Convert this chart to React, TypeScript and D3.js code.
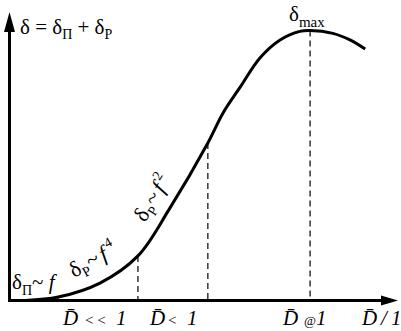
import React from "react";
import * as d3 from "d3";

// curve samples (arbitrary units, 0..10)
const curveX = [0.41, 1.28, 2.38, 3.38, 4.22, 5.22, 5.62, 6.07, 6.59, 7.12, 7.64, 7.91, 8.51, 8.96, 9.36];
const curveY = [0, 0.12, 0.61, 1.56, 3.23, 5.51, 6.56, 7.46, 8.48, 9.11, 9.41, 9.44, 9.34, 9.11, 8.79];

// dashed drop lines: x position and height where they meet the curve
const markX = [1.28, 3.38, 5.22, 7.91];
const markY = [0.12, 1.56, 5.51, 9.44];

const W = 401;
const H = 331;
const FONT = "'Liberation Serif', 'Times New Roman', serif";

const App = () => {
  const x = d3.scaleLinear().domain([0, 10]).range([9.5, 389.5]);
  const y = d3.scaleLinear().domain([0, 10]).range([300.5, 14.5]);

  const pts: [number, number][] = curveX.map((v, i) => [v, curveY[i]]);
  const line = d3
    .line<[number, number]>()
    .x((d) => x(d[0]))
    .y((d) => y(d[1]))
    .curve(d3.curveCatmullRom.alpha(0.5));

  const x0 = x(0);
  const y0 = y(0);

  return (
    <svg
      width={W}
      height={H}
      style={{ position: "absolute", left: 0, top: 0, background: "#fff" }}
      fontFamily={FONT}
    >
      {/* dashed drop lines */}
      {markX.map((m, i) => (
        <line
          key={i}
          x1={x(m)}
          x2={x(m)}
          y1={y(markY[i])}
          y2={y0}
          stroke="#000"
          strokeWidth={1.2}
          strokeDasharray="6,4"
        />
      ))}

      {/* axes */}
      <line x1={x0} x2={x0} y1={y0 + 1.5} y2={30} stroke="#000" strokeWidth={3} />
      <path d={`M${x0},12 L${x0 - 5.5},32 L${x0 + 5.5},32 Z`} fill="#000" />
      <line x1={x0 - 1.5} x2={382} y1={y0} y2={y0} stroke="#000" strokeWidth={3} />
      <path d={`M398,${y0} L381,${y0 - 5} L381,${y0 + 5} Z`} fill="#000" />

      {/* curve */}
      <path d={line(pts) ?? ""} fill="none" stroke="#000" strokeWidth={3} />

      {/* title */}
      <text x={20} y={34} fontSize={21}>
        δ = δ<tspan fontSize={14} dy={5}>Π</tspan>
        <tspan dy={-5}> + δ</tspan>
        <tspan fontSize={14} dy={5}>P</tspan>
      </text>

      {/* delta max */}
      <text x={289} y={21} fontSize={21}>
        δ<tspan fontSize={15} dy={6}>max</tspan>
      </text>

      {/* annotations along the curve */}
      <text x={12} y={289} fontSize={21}>
        δ<tspan fontSize={14} dy={6}>Π</tspan>
        <tspan dy={-6}>~</tspan>
        <tspan fontStyle="italic"> f</tspan>
      </text>
      <text transform="translate(74,278) rotate(-29)" fontSize={22}>
        δ<tspan fontSize={14} dy={5}>P</tspan>
        <tspan dy={-5} dx={1}>~</tspan>
        <tspan fontStyle="italic" dx={3}>f</tspan>
        <tspan fontSize={14} dy={-10} dx={3}>4</tspan>
      </text>
      <text transform="translate(145,223) rotate(-58)" fontSize={22}>
        δ<tspan fontSize={14} dy={5}>P</tspan>
        <tspan dy={-5} dx={1}>~</tspan>
        <tspan fontStyle="italic" dx={3}>f</tspan>
        <tspan fontSize={14} dy={-10} dx={3}>2</tspan>
      </text>

      {/* x labels */}
      <g fontSize={21}>
        <text y={325}>
          <tspan x={63} fontStyle="italic">D̄</tspan>
          <tspan x={85} fontSize={15}>{"< <"}</tspan>
          <tspan x={116} fontStyle="italic">1</tspan>
        </text>
        <text y={325}>
          <tspan x={150} fontStyle="italic">D̄</tspan>
          <tspan x={168} fontSize={15}>{"<"}</tspan>
          <tspan x={187} fontStyle="italic">1</tspan>
        </text>
        <text y={325}>
          <tspan x={283} fontStyle="italic">D̄</tspan>
          <tspan x={304} fontSize={13}>@</tspan>
          <tspan x={316} fontStyle="italic">1</tspan>
        </text>
        <text y={325}>
          <tspan x={362} fontStyle="italic">D̄</tspan>
          <tspan x={381} fontStyle="italic">/</tspan>
          <tspan x={391} fontStyle="italic">1</tspan>
        </text>
      </g>
    </svg>
  );
};

export default App;
